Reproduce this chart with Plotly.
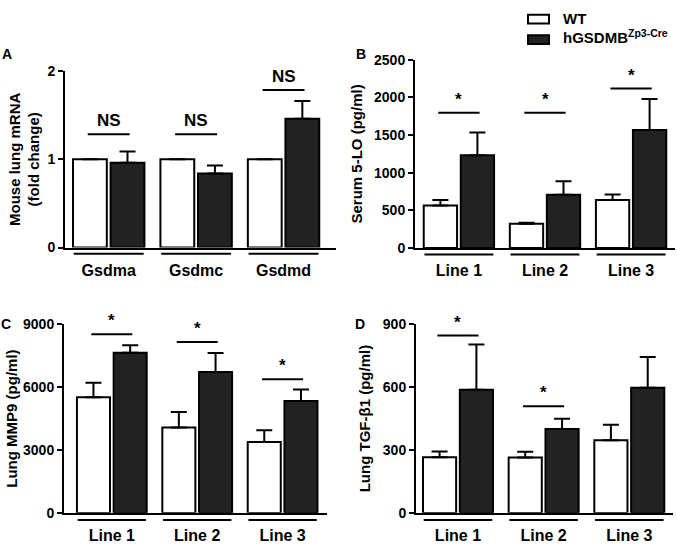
import plotly.graph_objects as go

W, H = 677, 550

# ---------------- data ----------------
genes = ["Gsdma", "Gsdmc", "Gsdmd"]
lines = ["Line 1", "Line 2", "Line 3"]

a_wt = [1.0, 1.0, 1.0]
a_wt_err = [0, 0, 0]
a_ko = [0.96, 0.84, 1.46]
a_ko_err = [0.13, 0.09, 0.20]

b_wt = [567, 322, 639]
b_wt_err = [72, 13, 74]
b_ko = [1232, 709, 1567]
b_ko_err = [301, 180, 412]

c_wt = [5512, 4076, 3381]
c_wt_err = [695, 741, 556]
c_ko = [7642, 6716, 5341]
c_ko_err = [357, 912, 541]

d_wt = [265, 264, 347]
d_wt_err = [28, 28, 74]
d_ko = [587, 400, 597]
d_ko_err = [216, 49, 147]

# significance brackets: (category index, bracket height, label)
a_sig = [(0, 1.284, "NS"), (1, 1.284, "NS"), (2, 1.787, "NS")]
b_sig = [(0, 1795, "*"), (1, 1795, "*"), (2, 2117, "*")]
c_sig = [(0, 8522, "*"), (1, 8152, "*"), (2, 6378, "*")]
d_sig = [(0, 846, "*"), (1, 509, "*")]

series_names = ["WT", "hGSDMB<sup>Zp3-Cre</sup>"]
y_titles = ["Mouse lung mRNA<br>(fold change)", "Serum 5-LO (pg/ml)",
            "Lung MMP9 (pg/ml)", "Lung TGF-β1 (pg/ml)"]
panel_letters = ["A", "B", "C", "D"]

# ---------------- styling ----------------
FONT = "Liberation Sans, Arial, sans-serif"
DARK = "#222222"


def px_x(p):
    return p / W


def px_y(p):
    return 1 - p / H


panels = [
    dict(cats=genes, wt=a_wt, wte=a_wt_err, ko=a_ko, koe=a_ko_err, sig=a_sig,
         xd=[px_x(65), px_x(336)], yd=[px_y(246.7), px_y(65)], xr=[-0.5, 2.6],
         yr=[0, 2], tv=[0, 1, 2], ul=px_y(253), letter=(7, 47), so=4),
    dict(cats=lines, wt=b_wt, wte=b_wt_err, ko=b_ko, koe=b_ko_err, sig=b_sig,
         xd=[px_x(415), px_x(675)], yd=[px_y(247.3), px_y(53.3)], xr=[-0.51, 2.51],
         yr=[0, 2500], tv=[0, 500, 1000, 1500, 2000, 2500], ul=px_y(254), letter=(361, 47), so=8),
    dict(cats=lines, wt=c_wt, wte=c_wt_err, ko=c_ko, koe=c_ko_err, sig=c_sig,
         xd=[px_x(64), px_x(327)], yd=[px_y(520), px_y(325.7)], xr=[-0.56, 2.52],
         yr=[0, 9000], tv=[0, 3000, 6000, 9000], ul=px_y(527.3), letter=(6, 325), so=2),
    dict(cats=lines, wt=d_wt, wte=d_wt_err, ko=d_ko, koe=d_ko_err, sig=d_sig,
         xd=[px_x(416), px_x(673)], yd=[px_y(520), px_y(325.7)], xr=[-0.49, 2.51],
         yr=[0, 900], tv=[0, 300, 600, 900], ul=px_y(527.3), letter=(360, 325), so=9),
]

fig = go.Figure()
shapes = []
annotations = []
layout = {}

for i, p in enumerate(panels):
    n = "" if i == 0 else str(i + 1)
    xa, ya = "x" + n, "y" + n
    fig.add_trace(go.Bar(
        x=p["cats"], y=p["wt"], name=series_names[0], xaxis=xa, yaxis=ya,
        marker=dict(color="white", line=dict(color="black", width=2)),
        error_y=dict(type="data", array=p["wte"], arrayminus=[0] * 3, symmetric=False,
                     color="black", thickness=2, width=8),
        showlegend=False))
    fig.add_trace(go.Bar(
        x=p["cats"], y=p["ko"], name=series_names[1], xaxis=xa, yaxis=ya,
        marker=dict(color=DARK, line=dict(color="black", width=2)),
        error_y=dict(type="data", array=p["koe"], arrayminus=[0] * 3, symmetric=False,
                     color="black", thickness=2, width=8),
        showlegend=False))

    layout["xaxis" + n] = dict(
        domain=p["xd"], anchor=ya, range=p["xr"], type="category",
        showline=True, linecolor="black", linewidth=2, ticks="",
        showgrid=False, zeroline=False, tickfont=dict(size=16),
        ticklabelstandoff=7)
    layout["yaxis" + n] = dict(
        domain=p["yd"], anchor=xa, range=p["yr"], tickvals=p["tv"],
        showline=True, linecolor="black", linewidth=2, ticks="outside",
        ticklen=5, tickwidth=2, tickcolor="black", showgrid=False, zeroline=False,
        tickfont=dict(size=14),
        title=dict(text=y_titles[i], font=dict(size=15), standoff=p["so"]))

    # group underlines below the axis
    for k in range(3):
        shapes.append(dict(type="line", xref=xa, yref="paper", x0=k - 0.4, x1=k + 0.4,
                           y0=p["ul"], y1=p["ul"], line=dict(color="black", width=2)))
    # significance brackets
    for k, h, lab in p["sig"]:
        shapes.append(dict(type="line", xref=xa, yref=ya, x0=k - 0.24, x1=k + 0.24,
                           y0=h, y1=h, line=dict(color="black", width=2)))
        annotations.append(dict(xref=xa, yref=ya, x=k, y=h, text=lab, showarrow=False,
                                yanchor="bottom", yshift=2,
                                font=dict(size=17)))
    lx, ly = p["letter"]
    annotations.append(dict(xref="paper", yref="paper", x=px_x(lx), y=px_y(ly),
                            text=panel_letters[i], showarrow=False,
                            xanchor="center", yanchor="middle", font=dict(size=14)))

# manual legend
shapes.append(dict(type="rect", xref="paper", yref="paper", x0=px_x(528), x1=px_x(549),
                   y0=px_y(16), y1=px_y(7), fillcolor="white", line=dict(color="black", width=2)))
shapes.append(dict(type="rect", xref="paper", yref="paper", x0=px_x(528), x1=px_x(549),
                   y0=px_y(37), y1=px_y(28), fillcolor=DARK, line=dict(color="black", width=2)))
annotations.append(dict(xref="paper", yref="paper", x=px_x(561), y=px_y(11), text=series_names[0],
                        showarrow=False, xanchor="left", yanchor="middle", font=dict(size=15)))
annotations.append(dict(xref="paper", yref="paper", x=px_x(561), y=px_y(29), text=series_names[1],
                        showarrow=False, xanchor="left", yanchor="middle", font=dict(size=15)))

fig.update_layout(
    width=W, height=H, margin=dict(l=0, r=0, t=0, b=0),
    paper_bgcolor="white", plot_bgcolor="white",
    font=dict(family=FONT, color="black", weight="bold"),
    barmode="group", bargap=0.14, bargroupgap=0.1,
    shapes=shapes, annotations=annotations, showlegend=False,
    **layout)

fig.write_html(
    "out.html",
    config={"displayModeBar": False},
    post_script="document.body.style.margin='0';document.body.style.overflow='hidden';"
                "document.documentElement.style.overflow='hidden';")
